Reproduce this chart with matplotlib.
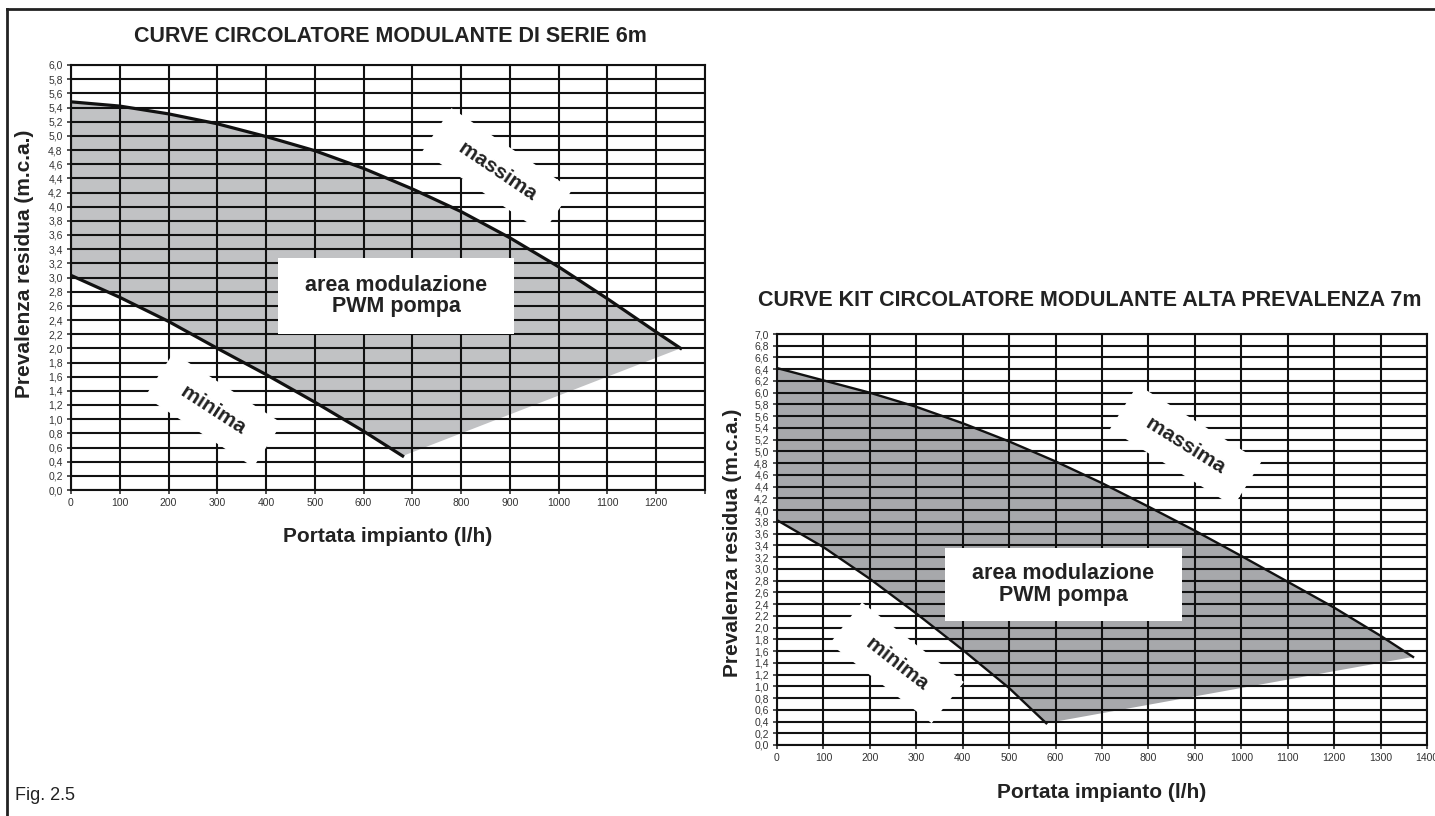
import matplotlib.pyplot as plt
import numpy as np
from matplotlib.patches import Rectangle
from matplotlib.lines import Line2D

plt.rcParams['font.family'] = ['Liberation Sans', 'DejaVu Sans']

# circolatore di serie 6m
q6_max = [0, 100, 200, 300, 400, 500, 600, 700, 800, 900, 1000, 1100, 1200, 1250]
h6_max = [5.48, 5.42, 5.31, 5.17, 4.99, 4.79, 4.54, 4.25, 3.93, 3.56, 3.15, 2.70, 2.23, 2.0]
q6_min = [0, 100, 200, 300, 400, 500, 600, 680]
h6_min = [3.03, 2.72, 2.38, 2.0, 1.63, 1.24, 0.83, 0.48]

# kit alta prevalenza 7m
q7_max = [0, 100, 200, 300, 400, 500, 600, 700, 800, 900, 1000, 1100, 1200, 1300, 1370]
h7_max = [6.42, 6.21, 6.0, 5.76, 5.48, 5.17, 4.83, 4.46, 4.06, 3.65, 3.22, 2.78, 2.34, 1.86, 1.5]
q7_min = [0, 100, 200, 300, 400, 500, 580]
h7_min = [3.83, 3.37, 2.83, 2.24, 1.62, 0.97, 0.37]

title6 = "CURVE CIRCOLATORE MODULANTE DI SERIE 6m"
title7 = "CURVE KIT CIRCOLATORE MODULANTE ALTA PREVALENZA 7m"
xlab = "Portata impianto (l/h)"
ylab = "Prevalenza residua (m.c.a.)"
ink = '#222222'

W, H = 1435, 816
fig = plt.figure(figsize=(W / 100, H / 100), dpi=100)


def px_axes(x0, x1, y0, y1):
    return fig.add_axes([x0 / W, 1 - y1 / H, (x1 - x0) / W, (y1 - y0) / H])


def ftext(x, y, s, **kw):
    kw.setdefault('ha', 'center')
    kw.setdefault('va', 'center')
    kw.setdefault('color', ink)
    fig.text(x / W, 1 - y / H, s, **kw)


def draw_chart(ax, qmax, hmax, qmin, hmin, xmax, ymax, color, lw):
    ax.fill(qmax + qmin[::-1], hmax + hmin[::-1], color=color, lw=0, zorder=1)
    ax.plot(qmax, hmax, color='#111111', lw=lw, zorder=3)
    ax.plot(qmin, hmin, color='#111111', lw=lw, zorder=3)
    ax.set_xlim(0, xmax)
    ax.set_ylim(0, ymax)
    ax.set_xticks(np.arange(0, xmax + 1, 100))
    ax.set_xticklabels([str(v) if v <= max(qmax) else '' for v in range(0, xmax + 1, 100)] if xmax < 1400
                       else [str(v) for v in range(0, xmax + 1, 100)])
    yt = np.arange(0, ymax + 0.01, 0.2)
    ax.set_yticks(yt)
    ax.set_yticklabels([f"{v:.1f}".replace('.', ',') for v in yt])
    ax.grid(True, color='#111111', lw=1.5)
    ax.tick_params(labelsize=7.5, colors='#333333', length=3, width=1.2, pad=3)
    for s in ax.spines.values():
        s.set_linewidth(1.5)
        s.set_color('#111111')


def tag(ax, x, y, s, rot):
    ax.text(x, y, s, rotation=rot, rotation_mode='anchor', ha='center', va='center',
            fontsize=15, fontweight='bold', color=ink, zorder=5,
            bbox=dict(boxstyle='square,pad=0.8', fc='white', ec='none'))


def area_box(ax, x0, x1, y0, y1):
    ax.add_patch(Rectangle((x0, y0), x1 - x0, y1 - y0, fc='white', ec='none', zorder=4))
    ax.text((x0 + x1) / 2, (y0 + y1) / 2, "area modulazione\nPWM pompa", ha='center', va='center',
            fontsize=15.5, fontweight='bold', color=ink, zorder=5, linespacing=1.05)


# left chart
ax1 = px_axes(71, 705, 65, 490)
draw_chart(ax1, q6_max, h6_max, q6_min, h6_min, 1300, 6.0, '#c1c2c4', 2.3)
area_box(ax1, 425, 908, 2.20, 3.28)
tag(ax1, 874, 4.51, "  massima  ", -34)
tag(ax1, 292, 1.13, "  minima  ", -33)
ftext(390, 37, title6, fontsize=15.5, fontweight='bold')
ftext(25, 264, ylab, rotation=90, fontsize=15, fontweight='bold')
ftext(388, 536, xlab, fontsize=15, fontweight='bold')

# right chart
ax2 = px_axes(777, 1427, 334, 745)
draw_chart(ax2, q7_max, h7_max, q7_min, h7_min, 1400, 7.0, '#a7a8ab', 1.7)
area_box(ax2, 362, 872, 2.11, 3.36)
tag(ax2, 880, 5.1, "  massima  ", -32)
tag(ax2, 258, 1.40, "  minima  ", -38)
ftext(1090, 301, title7, fontsize=15.5, fontweight='bold')
ftext(732, 543, ylab, rotation=90, fontsize=15, fontweight='bold')
ftext(1102, 793, xlab, fontsize=15, fontweight='bold')

# frame and figure number
fig.add_artist(Line2D([7 / W, 7 / W], [0, 1 - 9 / H], transform=fig.transFigure, color=ink, lw=2))
fig.add_artist(Line2D([7 / W, 1], [1 - 9 / H, 1 - 9 / H], transform=fig.transFigure, color=ink, lw=2))
ftext(15, 796, "Fig. 2.5", ha='left', fontsize=13)

fig.savefig('out.png', dpi=100)
